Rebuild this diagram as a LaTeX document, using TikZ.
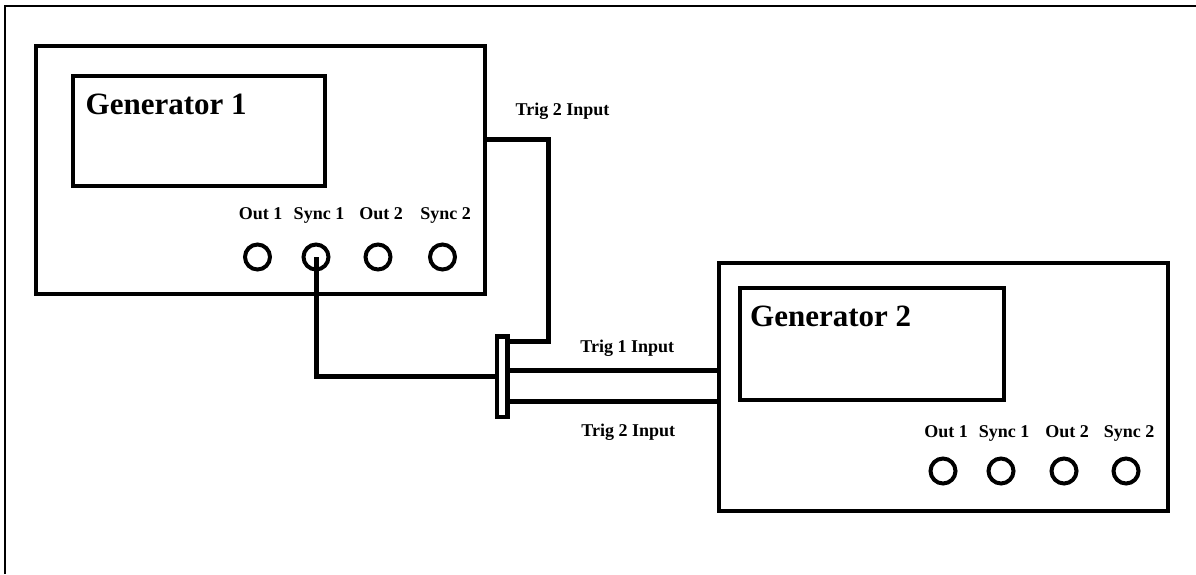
\documentclass[tikz,border=0pt]{standalone}
\usepackage{fontspec}
\setmainfont{Liberation Serif}
\usetikzlibrary{calc,positioning}

\begin{document}
\begin{tikzpicture}[
    x=1pt, y=-1pt,
    unit/.style  = {draw, line width=4pt, inner sep=0pt, outer sep=0pt},
    jack/.style  = {draw, circle, line width=4pt, minimum size=25pt,
                    inner sep=0pt, outer sep=0pt},
    tee/.style   = {draw, fill=white, line width=4.5pt, inner sep=0pt, outer sep=0pt,
                    minimum width=10.5pt, minimum height=80.5pt},
    wire/.style  = {line width=5pt},
    lbl/.style   = {font=\bfseries\fontsize{18}{20}\selectfont, inner sep=0pt, anchor=base},
    title/.style = {font=\bfseries\fontsize{31}{34}\selectfont, inner sep=0pt, anchor=base west}
  ]
  \useasboundingbox (0,0) rectangle (1196,574);
  \draw[line width=2pt] (5,574) -- (5,6) -- (1196,6);

  %–––– generator 1 ––––
  \node[unit, minimum width=449.5pt, minimum height=248pt] (gen1) at (260.25,170) {};
  \node[unit, minimum width=252.5pt, minimum height=110pt] (disp1) at (198.75,131) {};
  \node[title] (name1) at ($(disp1.north west)+(13,38)$) {Generator 1};
  \foreach \i/\x/\t in {1/257.5/Out 1, 2/316/Sync 1, 3/378/Out 2, 4/442.5/Sync 2} {
    \node[jack] (ja\i) at (\x,257) {};
    \node[lbl] (la\i) at ($(ja\i)+(3,-38)$) {\t};
  }

  %–––– generator 2 ––––
  \node[unit, minimum width=449pt, minimum height=247.5pt] (gen2) at (943.5,386.75) {};
  \node[unit, minimum width=264pt, minimum height=112pt] (disp2) at (872,344) {};
  \node[title] (name2) at ($(disp2.north west)+(10,38)$) {Generator 2};
  \foreach \i/\x/\t in {1/943/Out 1, 2/1001/Sync 1, 3/1064/Out 2, 4/1126/Sync 2} {
    \node[jack] (jb\i) at (\x,471) {};
    \node[lbl] (lb\i) at ($(jb\i)+(3,-34)$) {\t};
  }

  %–––– wiring ––––
  \node[tee] (tee) at (502,376.75) {};
  \coordinate (g1trig) at ($(gen1.north east)+(0,93)$);
  \coordinate (kink) at (548,341);

  \draw[wire] (g1trig) -| (kink) -- (kink -| tee.east);
  \draw[wire] (ja2.center) |- (tee.west);
  \draw[wire] ($(tee.east)+(0,-6.75)$) coordinate (t1) -- (t1 -| gen2.west);
  \draw[wire] ($(tee.east)+(0,25)$) coordinate (t2) -- (t2 -| gen2.west);
  \node[tee] at (tee) {};

  \node[lbl] (trigA) at ($(g1trig)+(77.5,-24)$) {Trig 2 Input};
  \node[lbl] (trigB) at ($(t1)+(120,-18)$) {Trig 1 Input};
  \node[lbl] (trigC) at ($(t2)+(121,35)$) {Trig 2 Input};
\end{tikzpicture}
\end{document}
